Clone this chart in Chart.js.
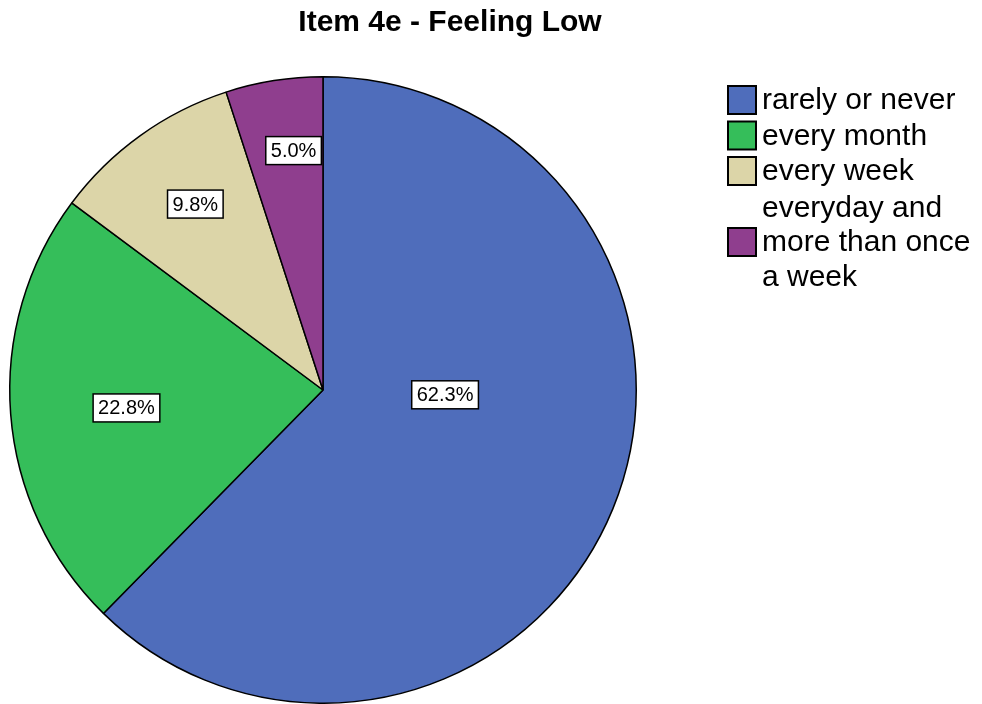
<!DOCTYPE html>
<html>
<head>
<meta charset="utf-8">
<script src="https://cdn.jsdelivr.net/npm/chart.js@4"></script>
<style>
  html, body { margin: 0; padding: 0; background: #fff; }
  #wrap { width: 982px; height: 704px; }
</style>
</head>
<body>
<div id="wrap"><canvas id="myChart" width="982" height="704"></canvas></div>
<script>
const chartTitle = 'Item 4e - Feeling Low'
const categories = ['rarely or never', 'every month', 'every week', 'everyday and more than once a week']
const legendLines = [['rarely or never'], ['every month'], ['every week'], ['everyday and', 'more than once', 'a week']]
const percents = [62.3, 22.8, 9.8, 5.0]
const colors = ['#4f6dbb', '#35be5a', '#dcd5a8', '#8f3e8e']

// where each % box sits: fraction of radius + angle nudge (degrees)
const labelRadius = [0.39, 0.63, 0.72, 0.77]
const labelTurn = [-20, -0.8, 1.2, 2]

const font = '"Liberation Sans", Arial, sans-serif'

const extras = {
  id: 'extras',
  afterDatasetsDraw(chart) {
    const ctx = chart.ctx
    const arcs = chart.getDatasetMeta(0).data
    ctx.save()
    ctx.font = '20px ' + font
    ctx.textAlign = 'center'
    ctx.textBaseline = 'middle'
    arcs.forEach((arc, i) => {
      const mid = (arc.startAngle + arc.endAngle) / 2 + labelTurn[i] * Math.PI / 180
      const r = arc.outerRadius * labelRadius[i]
      const x = arc.x + Math.cos(mid) * r
      const y = arc.y + Math.sin(mid) * r
      const txt = percents[i].toFixed(1) + '%'
      const w = ctx.measureText(txt).width + 10
      const h = 28
      ctx.fillStyle = '#fff'
      ctx.fillRect(x - w / 2, y - h / 2, w, h)
      ctx.strokeStyle = '#000'
      ctx.lineWidth = 1.5
      ctx.strokeRect(x - w / 2, y - h / 2, w, h)
      ctx.fillStyle = '#000'
      ctx.fillText(txt, x, y + 1)
    })

    // title
    ctx.font = 'bold 30px ' + font
    ctx.fillText(chartTitle, 450, 23)

    // legend
    ctx.font = '30px ' + font
    ctx.textAlign = 'left'
    const lineH = 34.5
    let y = 100
    legendLines.forEach((lines, i) => {
      const boxY = y + (lines.length - 1) / 2 * lineH
      ctx.fillStyle = colors[i]
      ctx.fillRect(728, boxY - 14, 28, 28)
      ctx.strokeStyle = '#000'
      ctx.lineWidth = 2
      ctx.strokeRect(728, boxY - 14, 28, 28)
      ctx.fillStyle = '#000'
      lines.forEach((ln, j) => ctx.fillText(ln, 762, y + j * lineH + 1))
      y += lines.length * lineH + (i == 2 ? 2 : 1)
    })
    ctx.restore()
  }
}

var myChart = new Chart(document.getElementById('myChart'), {
  type: 'pie',
  data: {
    labels: categories,
    datasets: [{
      data: percents,
      backgroundColor: colors,
      borderColor: '#000',
      borderWidth: 1.5
    }]
  },
  options: {
    responsive: false,
    animation: false,
    layout: { padding: { top: 76, bottom: 0, left: 9, right: 345 } },
    plugins: {
      legend: { display: false },
      tooltip: { enabled: false }
    }
  },
  plugins: [extras]
})
</script>
</body>
</html>
